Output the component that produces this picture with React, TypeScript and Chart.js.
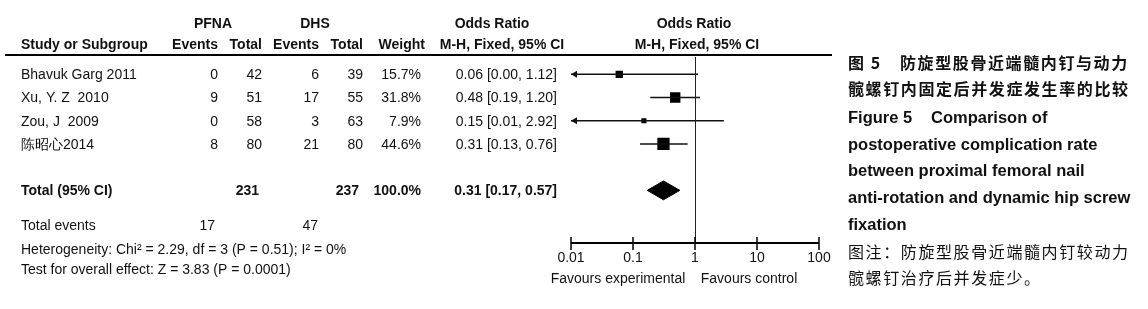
import React, { useEffect, useRef } from "react";
import { Chart, registerables } from "chart.js";

Chart.register(...registerables);

// ---------- data ----------
const studies = ["Bhavuk Garg 2011", "Xu, Y. Z  2010", "Zou, J  2009", "陈昭心2014"];
const pfnaEvents = [0, 9, 0, 8];
const pfnaTotals = [42, 51, 58, 80];
const dhsEvents = [6, 17, 3, 21];
const dhsTotals = [39, 55, 63, 80];
const weights = [15.7, 31.8, 7.9, 44.6];
const oddsRatios = [0.06, 0.48, 0.15, 0.31];
const ciLower = [0.0, 0.19, 0.01, 0.13];
const ciUpper = [1.12, 1.2, 2.92, 0.76];

const totalPatients = [231, 237];
const totalEvents = [17, 47];
const totalWeight = 100.0;
const pooled = [0.31, 0.17, 0.57]; // OR, lower, upper

const axisTicks = [0.01, 0.1, 1, 10, 100];
const axisTickLabels = ["0.01", "0.1", "1", "10", "100"];

const heterogeneityText = "Heterogeneity: Chi² = 2.29, df = 3 (P = 0.51); I² = 0%";
const overallText = "Test for overall effect: Z = 3.83 (P = 0.0001)";

const captionCnBold = ["防旋型股骨近端髓内钉与动力", "髋螺钉内固定后并发症发生率的比较"];
const captionEn = [
  "postoperative complication rate",
  "between proximal femoral nail",
  "anti-rotation and dynamic hip screw",
  "fixation",
];
const captionNote = ["图注：防旋型股骨近端髓内钉较动力", "髋螺钉治疗后并发症少。"];

// ---------- layout constants ----------
const W = 1148;
const H = 309;
const ROW0 = 69.5;
const STEP = 24.6;
const TOTAL_ROW = 5;
const AXIS_MIN = 0.01;
const AXIS_MAX = 100;
const AXIS_Y = 243;
const DIAMOND_HALF = 10 / STEP;

const FONT = "'Liberation Sans', Arial, Helvetica, sans-serif";
const CJK = "'Noto Sans CJK SC', 'Liberation Sans', sans-serif";

const fmt = (v: number) => v.toFixed(2);

const forestPlugin = {
  id: "forestText",
  afterDraw(chart: any) {
    const ctx: CanvasRenderingContext2D = chart.ctx;
    const xs = chart.scales.x;
    const ys = chart.scales.y;
    ctx.save();
    ctx.textBaseline = "middle";

    const txt = (
      s: string,
      x: number,
      y: number,
      align: CanvasTextAlign = "left",
      bold = false,
      size = 14,
      family = FONT,
      spacing = "0px"
    ) => {
      ctx.font = `${bold ? "bold " : ""}${size}px ${family}`;
      ctx.textAlign = align;
      ctx.fillStyle = "#111";
      (ctx as any).letterSpacing = spacing;
      ctx.fillText(s, x, y);
    };

    // header row 1
    txt("PFNA", 213, 24, "center", true);
    txt("DHS", 315, 24, "center", true);
    txt("Odds Ratio", 492, 24, "center", true);
    txt("Odds Ratio", 694, 24, "center", true);
    // header row 2
    const hy = 45;
    txt("Study or Subgroup", 21, hy, "left", true);
    txt("Events", 218, hy, "right", true);
    txt("Total", 262, hy, "right", true);
    txt("Events", 319, hy, "right", true);
    txt("Total", 363, hy, "right", true);
    txt("Weight", 425, hy, "right", true);
    txt("M-H, Fixed, 95% CI", 502, hy, "center", true);
    txt("M-H, Fixed, 95% CI", 697, hy, "center", true);

    // header rule
    ctx.strokeStyle = "#000";
    ctx.lineWidth = 2;
    ctx.beginPath();
    ctx.moveTo(5, 55);
    ctx.lineTo(832, 55);
    ctx.stroke();

    // study rows
    studies.forEach((s, i) => {
      const y = ys.getPixelForValue(i) + 1;
      txt(s, 21, y);
      txt(String(pfnaEvents[i]), 218, y, "right");
      txt(String(pfnaTotals[i]), 262, y, "right");
      txt(String(dhsEvents[i]), 319, y, "right");
      txt(String(dhsTotals[i]), 363, y, "right");
      txt(weights[i].toFixed(1) + "%", 421, y, "right");
      txt(`${fmt(oddsRatios[i])} [${fmt(ciLower[i])}, ${fmt(ciUpper[i])}]`, 557, y, "right");
    });

    // total row
    const ty = ys.getPixelForValue(TOTAL_ROW) + 1;
    txt("Total (95% CI)", 21, ty, "left", true);
    txt(String(totalPatients[0]), 259, ty, "right", true);
    txt(String(totalPatients[1]), 359, ty, "right", true);
    txt(totalWeight.toFixed(1) + "%", 421, ty, "right", true);
    txt(`${fmt(pooled[0])} [${fmt(pooled[1])}, ${fmt(pooled[2])}]`, 557, ty, "right", true);

    txt("Total events", 21, 226);
    txt(String(totalEvents[0]), 215, 226, "right");
    txt(String(totalEvents[1]), 318, 226, "right");
    txt(heterogeneityText, 21, 250);
    txt(overallText, 21, 270);

    // line of no effect
    const x1 = xs.getPixelForValue(1);
    ctx.strokeStyle = "#222";
    ctx.lineWidth = 1;
    ctx.beginPath();
    ctx.moveTo(Math.round(x1) + 0.5, 57);
    ctx.lineTo(Math.round(x1) + 0.5, AXIS_Y);
    ctx.stroke();

    // arrows for truncated CIs
    ctx.fillStyle = "#111";
    studies.forEach((_, i) => {
      if (ciLower[i] <= AXIS_MIN) {
        const ax = xs.getPixelForValue(AXIS_MIN);
        const ay = ys.getPixelForValue(i);
        ctx.beginPath();
        ctx.moveTo(ax, ay);
        ctx.lineTo(ax + 6, ay - 3.5);
        ctx.lineTo(ax + 6, ay + 3.5);
        ctx.closePath();
        ctx.fill();
      }
    });

    // x axis
    const xa = xs.getPixelForValue(AXIS_MIN);
    const xb = xs.getPixelForValue(AXIS_MAX);
    ctx.strokeStyle = "#000";
    ctx.lineWidth = 2;
    ctx.beginPath();
    ctx.moveTo(xa, AXIS_Y);
    ctx.lineTo(xb, AXIS_Y);
    ctx.stroke();
    ctx.lineWidth = 1.5;
    axisTicks.forEach((v, i) => {
      const px = xs.getPixelForValue(v);
      ctx.beginPath();
      ctx.moveTo(px, AXIS_Y - 6);
      ctx.lineTo(px, AXIS_Y + 7);
      ctx.stroke();
      txt(axisTickLabels[i], px, 258, "center");
    });
    txt("Favours experimental", 618, 279, "center");
    txt("Favours control", 749, 279, "center");

    // caption
    const cx = 848;
    txt("图 5", cx, 63, "left", true, 16, CJK, "1.6px");
    txt(captionCnBold[0], 900, 63, "left", true, 16, CJK, "1.6px");
    txt(captionCnBold[1], cx, 89, "left", true, 16, CJK, "1.6px");
    txt("Figure 5", cx, 118, "left", true, 16.5);
    txt("Comparison of", 931, 118, "left", true, 16.5);
    captionEn.forEach((s, i) => txt(s, cx, 145 + i * 26.8, "left", true, 16.5));
    captionNote.forEach((s, i) => txt(s, cx, 252 + i * 26, "left", false, 16, CJK, "1.6px"));

    ctx.restore();
  },
};

export default function App() {
  const ref = useRef<HTMLCanvasElement>(null);
  useEffect(() => {
    document.body.style.margin = "0";
    const ciSets = studies.map((_, i) => ({
      type: "line" as const,
      data: [
        { x: Math.max(ciLower[i], AXIS_MIN), y: i },
        { x: ciUpper[i], y: i },
      ],
      borderColor: "#111",
      borderWidth: 1.5,
      pointRadius: 0,
      fill: false,
      clip: false as any,
    }));
    const chart = new Chart(ref.current!, {
      type: "scatter",
      data: {
        datasets: [
          ...ciSets,
          {
            type: "scatter" as const,
            data: oddsRatios.map((v, i) => ({ x: v, y: i })),
            pointStyle: "rect",
            pointRadius: weights.map((w) => Math.sqrt(w) * 1.3),
            backgroundColor: "#000",
            borderColor: "#000",
            borderWidth: 0,
          },
          {
            type: "line" as const,
            data: [
              { x: pooled[1], y: TOTAL_ROW },
              { x: pooled[0], y: TOTAL_ROW - DIAMOND_HALF },
              { x: pooled[2], y: TOTAL_ROW },
              { x: pooled[0], y: TOTAL_ROW + DIAMOND_HALF },
              { x: pooled[1], y: TOTAL_ROW },
            ],
            borderColor: "#000",
            backgroundColor: "#000",
            borderWidth: 1,
            pointRadius: 0,
            tension: 0,
            fill: "shape" as any,
          },
        ] as any,
      },
      options: {
        animation: false,
        responsive: false,
        maintainAspectRatio: false,
        events: [],
        layout: { padding: { left: 571, right: W - 819, top: 0, bottom: 0 } },
        plugins: {
          legend: { display: false },
          tooltip: { enabled: false },
          title: { display: false },
        },
        scales: {
          x: { type: "logarithmic", min: AXIS_MIN, max: AXIS_MAX, display: false },
          y: {
            type: "linear",
            min: -ROW0 / STEP,
            max: (H - ROW0) / STEP,
            reverse: true,
            display: false,
          },
        },
      },
      plugins: [forestPlugin],
    });
    return () => chart.destroy();
  }, []);
  return (
    <div style={{ width: W, height: H, background: "#fff" }}>
      <canvas ref={ref} width={W} height={H} style={{ display: "block" }} />
    </div>
  );
}
